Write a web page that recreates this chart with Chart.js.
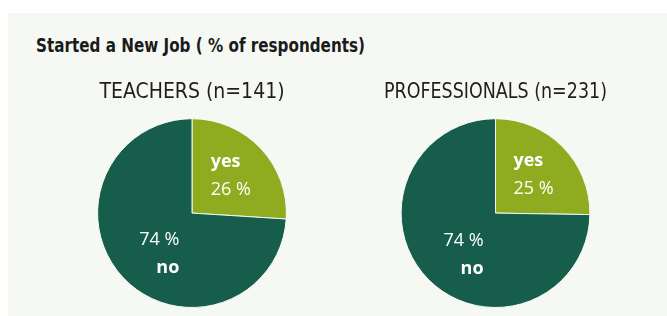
<!DOCTYPE html>
<html>
<head>
<meta charset="utf-8">
<script src="https://cdn.jsdelivr.net/npm/chart.js@4.4.1/dist/chart.umd.min.js"></script>
<style>
  html, body { margin: 0; padding: 0; background: #fff; }
  #wrap { position: relative; width: 667px; height: 316px; overflow: hidden; }
  #panel { position: absolute; left: 8px; top: 13px; right: 0; bottom: 0; background: #f6f9f3; }
  #heading { position: absolute; left: 36px; top: 35px; font: bold 20px/1 "DejaVu Sans Condensed", "DejaVu Sans", sans-serif; color: #1b1b1b; white-space: nowrap; transform-origin: 0 0; }
  canvas { position: absolute; }
</style>
</head>
<body>
<div id="wrap">
  <div id="panel"></div>
  <div id="heading">Started a New Job ( % of respondents)</div>
  <canvas id="teachers" style="left:92px; top:80px; width:200px; height:228px;"></canvas>
  <canvas id="professionals" style="left:384px; top:80px; width:223px; height:228px;"></canvas>
</div>
<script>
// answers and percentages
const answers = ["yes", "no"];
const teachersPct = [26, 74];
const professionalsPct = [25, 74];
const groupTitles = ["TEACHERS (n=141)", "PROFESSIONALS (n=231)"];

const colors = ["#8fab1f", "#165e4b"];
const panelBg = "#f6f9f3";
const subFont = '"DejaVu Sans Condensed", "DejaVu Sans", sans-serif';
const labelFont = '"Open Sans", sans-serif';

// squeeze the heading to the width it has in the original
const heading = document.getElementById("heading");
heading.style.transform = "scaleX(" + (329 / heading.offsetWidth).toFixed(3) + ")";

// white labels inside the slices: name on the outer side, value on the inner side
const sliceLabels = {
  id: "sliceLabels",
  afterDatasetsDraw(chart) {
    const ctx = chart.ctx;
    const meta = chart.getDatasetMeta(0);
    const values = chart.data.datasets[0].data;
    meta.data.forEach((arc, i) => {
      const p = arc.getProps(["x", "y", "startAngle", "endAngle", "outerRadius"], true);
      const mid = (p.startAngle + p.endAngle) / 2;
      const px = p.x + Math.cos(mid) * p.outerRadius * 0.52 + 3;
      const py = p.y + Math.sin(mid) * p.outerRadius * 0.6 + 2;
      const name = chart.data.labels[i];
      const pct = values[i] + " %";
      const bold = "bold 18px " + labelFont;
      const norm = "18px " + labelFont;
      ctx.save();
      ctx.fillStyle = "#ffffff";
      ctx.textBaseline = "middle";
      ctx.font = bold;
      const wName = ctx.measureText(name).width;
      ctx.font = norm;
      const wPct = ctx.measureText(pct).width;
      const w = Math.max(wName, wPct);
      const onRight = px >= p.x;
      const x = onRight ? px - w / 2 : px + w / 2;
      ctx.textAlign = onRight ? "left" : "right";
      const lines = py < p.y ? [[name, bold], [pct, norm]] : [[pct, norm], [name, bold]];
      lines.forEach((ln, k) => {
        ctx.font = ln[1];
        ctx.fillText(ln[0], x, py + (k - 0.5) * 28);
      });
      ctx.restore();
    });
  }
};

function makePie(id, values, title, align) {
  new Chart(document.getElementById(id), {
    type: "pie",
    data: {
      labels: answers,
      datasets: [{
        data: values,
        backgroundColor: colors,
        borderColor: panelBg,
        borderWidth: 1
      }]
    },
    options: {
      responsive: false,
      animation: false,
      layout: { padding: 0 },
      plugins: {
        legend: { display: false },
        tooltip: { enabled: false },
        title: {
          display: true,
          text: title,
          align: align,
          color: "#1e1e1e",
          font: { family: subFont, size: 21, weight: "normal", lineHeight: 1.2 },
          padding: { top: 0, bottom: 13 }
        }
      }
    },
    plugins: [sliceLabels]
  });
}

makePie("teachers", teachersPct, groupTitles[0], "center");
makePie("professionals", professionalsPct, groupTitles[1], "start");
</script>
</body>
</html>
